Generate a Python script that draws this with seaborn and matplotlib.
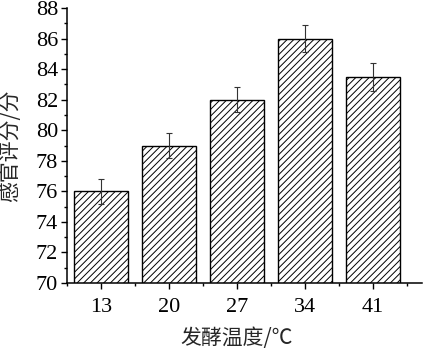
import matplotlib
matplotlib.use("Agg")
import matplotlib.pyplot as plt
import seaborn as sns
import pandas as pd
from matplotlib.ticker import MultipleLocator, FixedLocator

temps = ["13", "20", "27", "34", "41"]
scores = [76.0, 79.0, 82.0, 86.0, 83.5]
errs = [0.8, 0.8, 0.8, 0.9, 0.9]
yticks = [70, 72, 74, 76, 78, 80, 82, 84, 86, 88]

sns.set_theme(style="ticks")
plt.rcParams['font.family'] = ['Liberation Serif', 'Noto Sans CJK SC', 'DejaVu Sans']
plt.rcParams['hatch.color'] = '#666666'
plt.rcParams['hatch.linewidth'] = 0.7

df = pd.DataFrame({"temp": temps, "score": scores})

fig = plt.figure(figsize=(4.23, 3.48), dpi=100)
ax = fig.add_axes([67/423, 1-283/348, (422-67)/423, (283-8)/348])

sns.barplot(data=df, x="temp", y="score", order=temps, color="white",
            edgecolor="black", linewidth=1.0, width=0.8, errorbar=None,
            ax=ax)
for p in ax.patches:
    p.set_hatch("/////")
    p.set_facecolor("white")

ax.errorbar(range(len(temps)), scores, yerr=errs, fmt="none", ecolor="#333333",
            elinewidth=0.8, capsize=2.5, capthick=0.8)

ax.set_ylim(70, 88)
ax.set_xlim(-0.5, 4.72)
ax.set_yticks(yticks)
ax.yaxis.set_minor_locator(MultipleLocator(1))
ax.xaxis.set_minor_locator(FixedLocator([-0.5, 0.5, 1.5, 2.5, 3.5, 4.5]))

for s in ["top", "right"]:
    ax.spines[s].set_visible(False)
for s in ["left", "bottom"]:
    ax.spines[s].set_linewidth(1.1)
    ax.spines[s].set_color("black")

ax.tick_params(axis="both", which="major", direction="out", length=4.5, width=1.0,
               labelsize=16, colors="black", pad=2)
ax.tick_params(axis="both", which="minor", direction="out", length=2.5, width=1.0, colors="black")
ax.tick_params(axis="x", which="major", pad=6)

ax.set_xlabel("发酵温度/℃", fontsize=15, family=['Noto Sans CJK SC', 'DejaVu Sans'])
ax.set_ylabel("感官评分/分", fontsize=15, family=['Noto Sans CJK SC', 'DejaVu Sans'])
ax.xaxis.set_label_coords((237-67)/(422-67), -0.16)
ax.yaxis.set_label_coords(-0.128, 0.5)

fig.savefig("out.png", dpi=100)
